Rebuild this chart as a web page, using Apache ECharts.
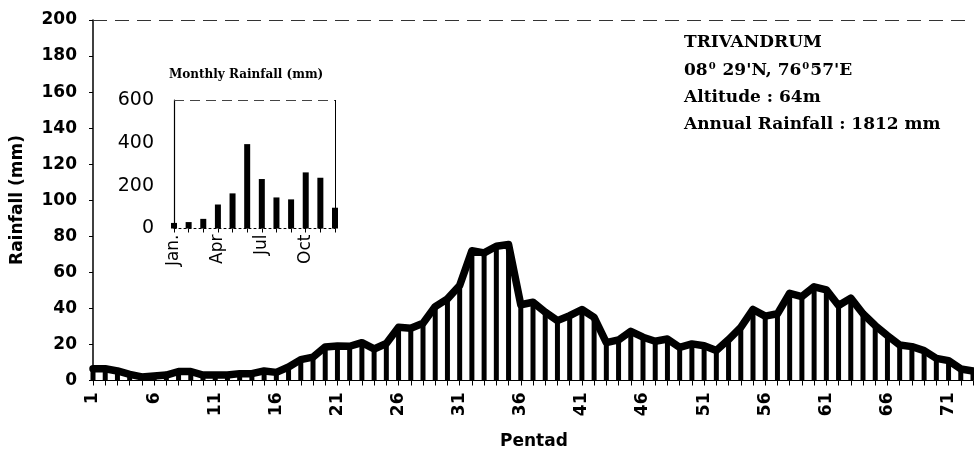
<!DOCTYPE html>
<html>
<head>
<meta charset="utf-8">
<script src="https://cdn.jsdelivr.net/npm/echarts@6/dist/echarts.min.js"></script>
<style>
  html, body { margin: 0; padding: 0; background: #fff; }
  #chart { width: 974px; height: 459px; }
</style>
</head>
<body>
<div id="chart"></div>
<script>
// pentad rainfall (mm), pentads 1..73
const pentads = [];
for (let i = 1; i <= 73; i++) pentads.push(String(i));
const pentadRain = [
  6.5, 6.5, 5.3, 3.4, 2, 2.5, 3, 5, 5, 3,
  3, 3, 3.8, 3.8, 5.3, 4.5, 7.5, 11.6, 13, 18.6,
  19.2, 19, 21, 17.5, 20.5, 29.5, 29, 31.8, 41, 45.3,
  52.7, 72, 70.8, 74.5, 75.4, 42, 43.4, 37.9, 33.2, 36,
  39.4, 35, 21, 22.5, 27.3, 24, 21.8, 23, 18.4, 20.3,
  19.3, 16.6, 22.7, 29.5, 39.4, 35.7, 37, 48.4, 46.6, 52,
  50.3, 41.6, 45.7, 37, 30.5, 24.9, 19.7, 18.8, 16.6, 12.3,
  11, 6.4, 5.3
];

// inset: monthly rainfall (mm)
const months = ['Jan.', 'Feb', 'Mar', 'Apr', 'May', 'Jun', 'Jul', 'Aug', 'Sep', 'Oct', 'Nov', 'Dec'];
const monthlyRain = [26, 30, 45, 112, 164, 394, 231, 145, 136, 262, 237, 97];

const infoLines = [
  'TRIVANDRUM',
  '{a|08}{s|0}{a| 29\'N, 76}{s|0}{a|57\'E}',
  'Altitude : 64m',
  'Annual Rainfall : 1812 mm'
];

const sans = 'DejaVu Sans';
const serif = 'DejaVu Serif';

const chart = echarts.init(document.getElementById('chart'));

const option = {
  animation: false,
  backgroundColor: '#fff',
  grid: [
    { left: 93, right: 1, top: 20, bottom: 78.5 },
    { left: 174, right: 639, top: 100, bottom: 230.5 }
  ],
  xAxis: [
    {
      type: 'category', gridIndex: 0, data: pentads, boundaryGap: false,
      axisLine: { lineStyle: { color: '#000', width: 1 } },
      axisTick: { show: false },
      axisLabel: {
        interval: 4, rotate: 90, margin: 12,
        fontFamily: sans, fontWeight: 'bold', fontSize: 17, color: '#000'
      }
    },
    {
      type: 'category', gridIndex: 1, data: months, boundaryGap: false,
      axisLine: { lineStyle: { color: '#000', width: 1, type: [2, 3] } },
      axisTick: { interval: 0, length: 4, lineStyle: { color: '#000' } },
      axisLabel: {
        interval: 2, rotate: 90, margin: 6,
        fontFamily: sans, fontSize: 17, color: '#000'
      }
    },
    // twin of the pentad axis: carries the line and a tick at every pentad
    {
      type: 'category', gridIndex: 0, position: 'bottom', data: pentads, boundaryGap: false,
      axisLine: { show: false },
      axisTick: { show: true, interval: 0, length: 5, lineStyle: { color: '#000' } },
      axisLabel: { show: false }
    }
  ],
  yAxis: [
    {
      type: 'value', gridIndex: 0, min: 0, max: 200, interval: 20,
      axisLine: { show: true, lineStyle: { color: '#000', width: 1.5 } },
      axisTick: { show: true, length: 4, lineStyle: { color: '#000' } },
      splitLine: { show: false },
      axisLabel: { margin: 16, fontFamily: sans, fontWeight: 'bold', fontSize: 17, color: '#000' }
    },
    {
      type: 'value', gridIndex: 1, min: 0, max: 600, interval: 200,
      axisLine: { show: true, lineStyle: { color: '#000', width: 1.2 } },
      axisTick: { show: false },
      splitLine: { show: false },
      axisLabel: { margin: 20, fontFamily: sans, fontSize: 19, color: '#000' }
    }
  ],
  series: [
    {
      type: 'bar', xAxisIndex: 0, yAxisIndex: 0, data: pentadRain,
      barWidth: 5, itemStyle: { color: '#000' }
    },
    {
      type: 'line', xAxisIndex: 2, yAxisIndex: 0, data: pentadRain,
      showSymbol: false, z: 3,
      lineStyle: { color: '#000', width: 7.5, join: 'round', cap: 'round' },
      // broken frame line along the top of the plot
      markLine: {
        silent: true, symbol: 'none', label: { show: false },
        lineStyle: { color: '#333', width: 1, type: [14, 8] },
        data: [{ yAxis: 200 }]
      }
    },
    {
      type: 'bar', xAxisIndex: 1, yAxisIndex: 1, data: monthlyRain,
      barWidth: 6, itemStyle: { color: '#000' },
      markLine: {
        silent: true, symbol: 'none', label: { show: false },
        lineStyle: { color: '#444', width: 1, type: [10, 6] },
        data: [
          { yAxis: 600 },
          { xAxis: 'Dec', lineStyle: { color: '#000', width: 1, type: 'solid' } }
        ]
      }
    }
  ],
  graphic: [
    {
      type: 'text', x: 18, y: 200, rotation: Math.PI / 2,
      style: {
        text: 'Rainfall (mm)', fill: '#000', align: 'center', verticalAlign: 'middle',
        font: 'bold 17px "' + sans + '"'
      }
    },
    {
      type: 'text', left: 247 - 78, top: 69,
      style: {
        text: 'Monthly Rainfall (mm)', fill: '#000',
        font: 'bold 12px "' + serif + '"'
      }
    },
    {
      type: 'text', left: 500, top: 433,
      style: {
        text: 'Pentad', fill: '#000',
        font: 'bold 17px "' + sans + '"'
      }
    },
    {
      type: 'group', left: 684, top: 34,
      children: infoLines.map((t, i) => ({
        type: 'text', x: 0, y: i * 27.5,
        style: {
          text: t, fill: '#000',
          font: 'bold 17px "' + serif + '"',
          rich: {
            a: { fontFamily: serif, fontWeight: 'bold', fontSize: 17 },
            s: { fontFamily: serif, fontWeight: 'bold', fontSize: 10, verticalAlign: 'top', padding: [0, 1, 8, 1] }
          }
        }
      }))
    }
  ]
};

chart.setOption(option);

// the pentad tick labels sometimes come out unrotated; if so, turn them
// upright-reading (bottom to top) at the same anchor the axis gave them
const zr = chart.getZr();
const shown = new Set(pentads.filter((p, i) => i % 5 === 0));
zr.storage.getDisplayList(true).forEach(el => {
  const st = el.style;
  if (!st || typeof st.text !== 'string' || !shown.has(st.text)) return;
  const m = el.getComputedTransform ? el.getComputedTransform() : null;
  const ang = m ? Math.atan2(m[1], m[0]) : 0;
  const ax = m ? m[4] : el.x;
  const ay = m ? m[5] : el.y;
  if (ay < 381 || Math.abs(ang) > 0.5) return;
  el.ignore = true;
  el.markRedraw();
  zr.add(new echarts.graphic.Text({
    x: ax, y: ay, rotation: Math.PI / 2, z: 10,
    style: {
      text: st.text, fill: '#000', align: 'right', verticalAlign: 'middle',
      font: 'bold 17px "' + sans + '"'
    }
  }));
});
zr.refresh();
</script>
</body>
</html>
